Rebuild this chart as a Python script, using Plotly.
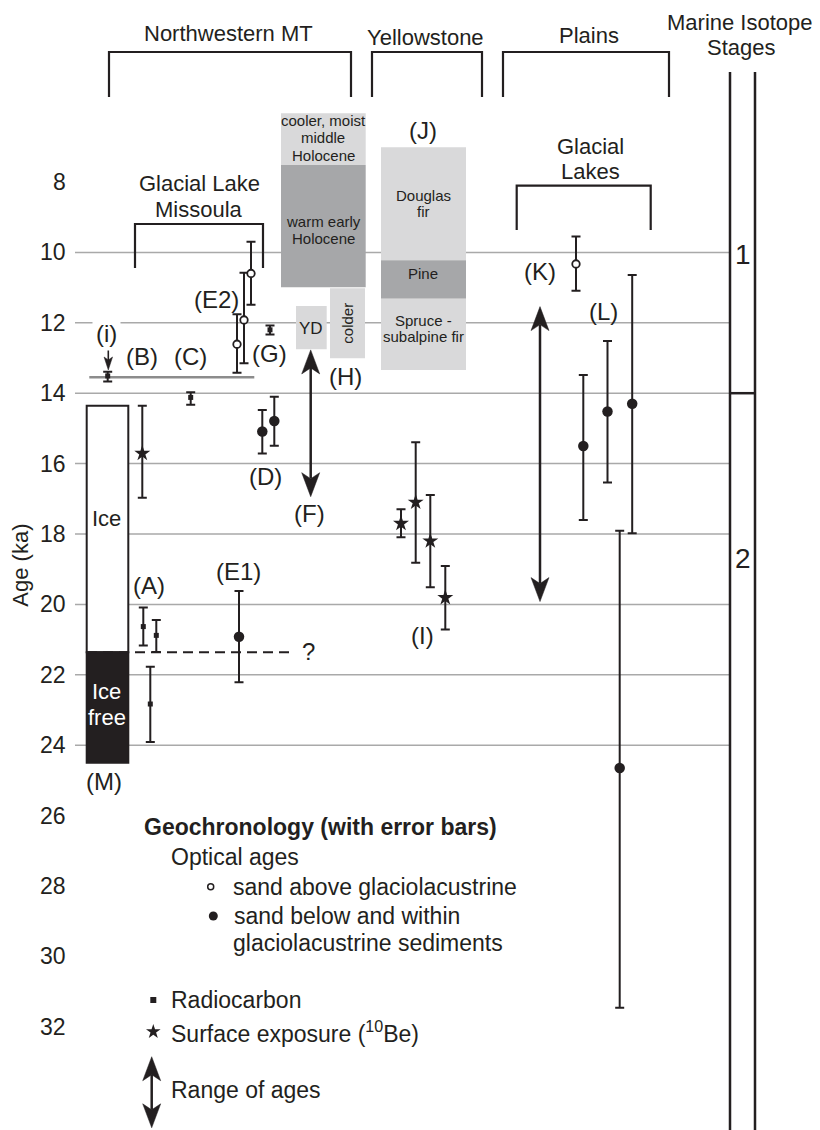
import plotly.graph_objects as go

INK = "#231f20"
LIGHT = "#d9d9da"
DARK = "#a6a7a9"
GRID = "#a9a9a9"
GREYLINE = "#8c8c8c"
FONT = "Liberation Sans, Arial, Helvetica, sans-serif"

# ---------------- axis / scale ----------------
AGE_AT_ROW = 8.0         # age of the "8" tick
ROW_OF_AGE8 = 182.0      # layout helper only
PX_PER_KA = 35.2
age_ticks = list(range(8, 33, 2))
grid_ages = list(range(10, 25, 2))

def Y(px):
    """layout helper: page row -> age (for labels / frames only)"""
    return AGE_AT_ROW + (px - ROW_OF_AGE8) / PX_PER_KA

Y_TOP, Y_BOT = Y(0), Y(1130)

# ---------------- data (ages in ka) ----------------
# Optical ages, sand above glaciolacustrine (open circles): E2 (x3), K
open_x = [237, 244, 251, 576]
open_age = [12.61, 11.92, 10.60, 10.33]
open_young = [11.76, 10.58, 9.70, 9.55]
open_old = [13.42, 13.15, 11.49, 11.09]

# Optical ages, sand below/within glaciolacustrine (filled circles): E1, D (x2), L (x4)
dot_x = [239, 262.3, 274.3, 583.3, 607.5, 619.7, 632.2]
dot_age = [20.92, 15.09, 14.79, 15.50, 14.52, 24.65, 14.30]
dot_young = [19.62, 14.48, 14.10, 13.48, 12.52, 17.91, 10.64]
dot_old = [22.21, 15.71, 15.49, 17.60, 16.54, 31.46, 17.98]

# Radiocarbon (squares): i, C, G, A (x3)
c14_x = [107.7, 190.7, 270, 143.3, 156.3, 150.3]
c14_age = [13.51, 14.12, 12.20, 20.63, 20.88, 22.83]
c14_young = [13.39, 13.97, 12.08, 20.09, 20.44, 21.77]
c14_old = [13.67, 14.33, 12.33, 21.17, 21.35, 23.91]

# Surface exposure 10Be (stars): B, I (x4)
be_x = [142.3, 401, 415.7, 430.3, 445.3]
be_age = [15.71, 17.70, 17.10, 18.20, 19.81]
be_young = [14.36, 17.30, 15.39, 16.89, 18.91]
be_old = [16.97, 18.09, 18.82, 19.51, 20.71]

# Range-of-ages double arrows: F, K, legend
range_x = [310.7, 540, 151.7]
range_young = [12.77, 11.54, 32.85]
range_old = [16.94, 19.92, 34.87]

# single arrow (i)
arrow_i_x = 108.3
arrow_i_from, arrow_i_to = 12.63, 13.34

# Ice record (M)
ice_top, ice_base, icefree_base = 14.36, 21.36, 24.50
# glacial lake line (13.55 ka)
lake_line_age = 13.55

# Paleoclimate boxes (Northwestern MT): label, x0, x1, young, old, fill
nw_boxes = [
    ("cooler", 281, 365.7, 6.05, 7.52, LIGHT),
    ("warm", 281, 365.7, 7.52, 10.99, DARK),
    ("YD", 296, 326.7, 11.52, 12.75, LIGHT),
    ("colder", 330, 365, 11.02, 13.01, LIGHT),
]
# Yellowstone vegetation (J)
veg_labels = ["Douglas fir", "Pine", "Spruce - subalpine fir"]
veg_young = [7.01, 10.22, 11.32]
veg_old = [10.22, 11.32, 13.34]
veg_fill = [LIGHT, DARK, LIGHT]

# Marine isotope stage boundary
mis_boundary = 14.0

fig = go.Figure()

# ---------------- shapes ----------------
shapes = []

def line(x0, y0, x1, y1, color=INK, width=2.2, dash=None, layer="below"):
    d = dict(type="line", xref="x", yref="y", x0=x0, y0=y0, x1=x1, y1=y1,
             line=dict(color=color, width=width), layer=layer)
    if dash:
        d["line"]["dash"] = dash
    shapes.append(d)

def rect(x0, x1, y0, y1, fill, lc=None, lw=0, layer="below"):
    shapes.append(dict(type="rect", xref="x", yref="y", x0=x0, x1=x1, y0=y0, y1=y1,
                       fillcolor=fill, line=dict(color=lc or fill, width=lw), layer=layer))

def bracket(x0, x1, ytop, yleg, width=2.2):
    shapes.append(dict(type="path", xref="x", yref="y",
                       path=f"M {x0},{yleg} L {x0},{ytop} L {x1},{ytop} L {x1},{yleg}",
                       line=dict(color=INK, width=width), layer="below"))

def head(x, tip, direction, L=24, W=18, notch=6):
    back = tip - direction * L / PX_PER_KA
    nt = tip - direction * (L - notch) / PX_PER_KA
    shapes.append(dict(type="path", xref="x", yref="y",
                       path=f"M {x},{tip} L {x - W/2},{back} L {x},{nt} L {x + W/2},{back} Z",
                       fillcolor=INK, line=dict(color=INK, width=0.5), layer="above"))

# grid lines
for g in grid_ages:
    line(75, g, 730, g, color=GRID, width=1.5)

# NW MT boxes
for lab, x0, x1, y0, y1, f in nw_boxes:
    rect(x0, x1, y0, y1, f)
# Yellowstone boxes
for lab, y0, y1, f in zip(veg_labels, veg_young, veg_old, veg_fill):
    rect(381, 466, y0, y1, f)

# ice column
rect(86.7, 128.3, ice_top, ice_base, "white", lc=INK, lw=2)
rect(86.7, 128.3, ice_base, icefree_base, INK, lc=INK, lw=2)
line(87, ice_base, 293, ice_base, color=INK, width=2, dash="10px,6px")

# glacial lake line
line(89.3, lake_line_age, 254.3, lake_line_age, color=GREYLINE, width=2.5)

# brackets
bracket(109, 351, Y(52), Y(97))
bracket(372, 482, Y(52), Y(97))
bracket(503, 669, Y(52), Y(97))
bracket(135, 263, Y(224), Y(268))
bracket(516.7, 650.7, Y(185.7), Y(230))

# MIS column
line(730, Y(72), 730, Y_BOT, width=2.5)
line(755, Y(72), 755, Y_BOT, width=2.5)
line(730, mis_boundary, 755, mis_boundary, width=2.5)

# range arrows
for x, yy, yo in zip(range_x, range_young, range_old):
    line(x, yy + 18 / PX_PER_KA, x, yo - 18 / PX_PER_KA, width=2.5, layer="above")
    head(x, yy, -1)
    head(x, yo, +1)
# (i) arrow
line(arrow_i_x, arrow_i_from, arrow_i_x, arrow_i_to - 9 / PX_PER_KA, width=1.6, layer="above")
head(arrow_i_x, arrow_i_to, +1, L=13, W=8.5, notch=3)

# ---------------- data traces ----------------
def err_trace(xs, c, young, old, symbol, size, fill, lw=0.0, cap=4.5):
    fig.add_trace(go.Scatter(
        x=xs, y=c, mode="markers",
        marker=dict(symbol=symbol, size=size, color=fill, line=dict(color=INK, width=lw)),
        error_y=dict(type="data", symmetric=False,
                     array=[o - a for o, a in zip(old, c)],
                     arrayminus=[a - y for a, y in zip(c, young)],
                     color=INK, thickness=2, width=cap),
        hoverinfo="skip", showlegend=False))

err_trace(c14_x, c14_age, c14_young, c14_old, "square", 5, INK)
err_trace(be_x, be_age, be_young, be_old, "star", 12, INK)
err_trace(dot_x, dot_age, dot_young, dot_old, "circle", 10.5, INK)
err_trace(open_x, open_age, open_young, open_old, "circle", 7.5, "white", lw=1.8)

# legend symbols
fig.add_trace(go.Scatter(x=[210.7], y=[Y(886.7)], mode="markers", hoverinfo="skip",
                         marker=dict(symbol="circle", size=6, color="white", line=dict(color=INK, width=1.5))))
fig.add_trace(go.Scatter(x=[213.3], y=[Y(916)], mode="markers", hoverinfo="skip",
                         marker=dict(symbol="circle", size=9, color=INK)))
fig.add_trace(go.Scatter(x=[153.3], y=[Y(1000)], mode="markers", hoverinfo="skip",
                         marker=dict(symbol="square", size=6, color=INK)))
fig.add_trace(go.Scatter(x=[153.3], y=[Y(1031.7)], mode="markers", hoverinfo="skip",
                         marker=dict(symbol="star", size=11, color=INK)))

# ---------------- text ----------------
ann = []

def text(x, y, s, size=24, color=INK, xanchor="center", angle=0, bg=None):
    d = dict(x=x, y=y, xref="x", yref="y", text=s, showarrow=False,
             xanchor=xanchor, yanchor="middle", textangle=angle,
             font=dict(family=FONT, size=size, color=color))
    if bg:
        d["bgcolor"] = bg
        d["borderpad"] = 3
    ann.append(d)

for t in age_ticks:
    text(68, t, str(t), size=23, xanchor="right")
text(21, 18.9, "Age (ka)", size=22, angle=-90)

# headers
text(228, Y(33), "Northwestern MT", size=22)
text(425, Y(37), "Yellowstone", size=22)
text(588.7, Y(35), "Plains", size=22)
text(740, Y(22), "Marine Isotope", size=22)
text(741.7, Y(47), "Stages", size=22)
text(199, Y(183), "Glacial Lake", size=22)
text(199, Y(209), "Missoula", size=22)
text(590, Y(146.7), "Glacial", size=22)
text(590, Y(171.7), "Lakes", size=22)
text(743.3, 10.07, "1", size=28)
text(742.5, 18.71, "2", size=28)

# box texts
text(323.3, Y(120), "cooler, moist", size=15)
text(323.3, Y(137.3), "middle", size=15)
text(323.3, Y(155), "Holocene", size=15)
text(323.3, Y(221), "warm early", size=15)
text(323.3, Y(238.7), "Holocene", size=15)
text(311.3, 12.15, "YD", size=17)
text(347.5, 12.01, "colder", size=15, angle=-90)
text(423.3, Y(195.7), "Douglas", size=15)
text(423.3, Y(211.7), "fir", size=15)
text(423.3, 10.61, "Pine", size=15)
text(423.3, Y(320), "Spruce -", size=15)
text(423.3, Y(336), "subalpine fir", size=15)

# site labels
text(106, 12.30, "(i)", bg="white")
text(141.7, 12.96, "(B)")
text(190.7, 12.96, "(C)")
text(216.7, 11.35, "(E2)")
text(269.3, 12.87, "(G)")
text(265.7, 16.37, "(D)")
text(309.3, 17.41, "(F)")
text(345, 13.53, "(H)")
text(149.3, 19.45, "(A)")
text(238.3, 19.07, "(E1)")
text(104, 25.04, "(M)")
text(423.3, Y(130), "(J)")
text(422.7, 20.87, "(I)")
text(540, 10.55, "(K)")
text(603.3, 11.68, "(L)")
text(308, 21.34, "?")
text(106.7, 17.55, "Ice", size=22)
text(106.7, Y(691.7), "Ice", size=22, color="white")
text(106.7, Y(717.3), "free", size=22, color="white")

# legend text
text(141.7, Y(826.7), "<b>Geochronology (with error bars)</b>", size=23, xanchor="left")
text(169.3, Y(856.7), "Optical ages", size=23, xanchor="left")
text(230.7, Y(886.7), "sand above glaciolacustrine", size=23, xanchor="left")
text(232.3, Y(916), "sand below and within", size=23, xanchor="left")
text(230.7, Y(942.7), "glaciolacustrine sediments", size=23, xanchor="left")
text(169.3, Y(1000), "Radiocarbon", size=23, xanchor="left")
text(169.3, Y(1031.7), "Surface exposure (<sup>10</sup>Be)", size=23, xanchor="left")
text(169.3, Y(1090), "Range of ages", size=23, xanchor="left")

fig.update_layout(
    width=820, height=1130,
    margin=dict(l=0, r=0, t=0, b=0, pad=0),
    paper_bgcolor="white", plot_bgcolor="white",
    showlegend=False,
    xaxis=dict(range=[0, 820], visible=False, fixedrange=True),
    yaxis=dict(range=[Y_BOT, Y_TOP], visible=False, fixedrange=True),
    shapes=shapes, annotations=ann,
    font=dict(family=FONT, color=INK),
)

fig.write_html("out.html", config={"displayModeBar": False},
               post_script="document.body.style.margin='0';document.body.style.overflow='hidden';")
